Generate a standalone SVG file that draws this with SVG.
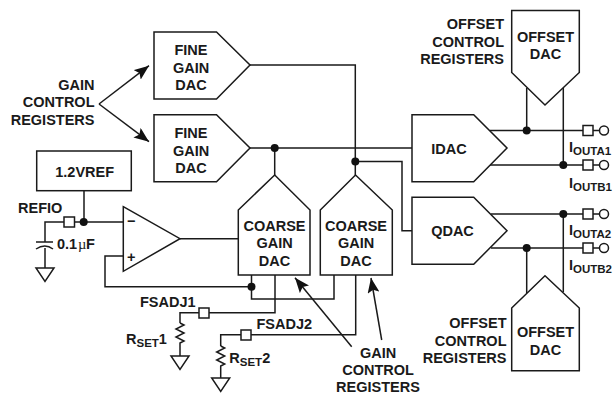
<svg xmlns="http://www.w3.org/2000/svg" width="613" height="394" viewBox="0 0 613 394">
<style>
.s{fill:none;stroke:#1a1a1a;stroke-width:1.5;stroke-linejoin:miter}
.b{fill:#fff;stroke:#1a1a1a;stroke-width:1.5}
.t{font-family:"Liberation Sans",Arial,sans-serif;font-weight:700;font-size:14.500px;fill:#1a1a1a}
.m{text-anchor:middle}
.e{text-anchor:end}
.u{font-size:11.500px}
.d{fill:#111;stroke:none}
</style>
<defs>
<marker id="a" markerUnits="userSpaceOnUse" markerWidth="16" markerHeight="12" refX="15" refY="6" orient="auto"><path d="M0 0L15 6L0 12L3 6Z" fill="#111"/></marker>
<g id="gnd"><path class="s" d="M-9 0H9L0 13.500Z"/></g>
</defs>
<g id="connectors">
<path class="s" d="M250 65H355.300V161.500H402V230.700H412M250 148H412M274.700 148V175M355.300 161.500V175"/>
<path class="s" d="M180 238.700H238.300M84 190.700V222M45 268V248M45 242V222H123.300M123.300 256H105V286.700H251.500M251.500 275V299H334V275"/>
<path class="s" d="M275 275V312.700H180V323M180 345V356M355.700 275V334.700H220.700V346M220.700 367V378"/>
<path class="s" d="M180 323l4 2-8 4 8 4-8 4 8 4-4 2v2M220.700 346l4 2-8 4 8 4-8 4 8 4-4 2v1"/>
<path class="s" d="M36 242H53M36 249Q45 243 53 249"/>
<path class="s" d="M490 130.500H583M490 165H583M491 214H583M491 248H583M592 130.500H600M592 165H600M592 214H600M592 248H600"/>
<path class="s" d="M526.700 88V130.500M563.300 87V165M526.700 248V293M563.300 214V292"/>
<path class="s" d="M99 104L149 65.700" marker-end="url(#a)"/>
<path class="s" d="M99 104L149 141.700" marker-end="url(#a)"/>
<path class="s" d="M351.700 346.700L295 277.700" marker-end="url(#a)"/>
<path class="s" d="M381.700 340L371 278" marker-end="url(#a)"/>
<circle class="d" cx="274.700" cy="148" r="4"/>
<circle class="d" cx="355.300" cy="161.500" r="4"/>
<circle class="d" cx="83.700" cy="222" r="4"/>
<circle class="d" cx="251.500" cy="286.700" r="4"/>
<circle class="d" cx="526.700" cy="130.500" r="4"/>
<circle class="d" cx="563.300" cy="165" r="4"/>
<circle class="d" cx="563.300" cy="214" r="4"/>
<circle class="d" cx="526.700" cy="248" r="4"/>
</g>
<g id="fine1"><path class="b" d="M154 32H216.500L250 65L216.500 99H154Z"/><text class="t m" x="191" y="55">FINE</text><text class="t m" x="191" y="73">GAIN</text><text class="t m" x="191" y="90">DAC</text></g>
<g id="fine2"><path class="b" d="M154 114.700H216.500L250 148L216.500 181.700H154Z"/><text class="t m" x="191" y="138">FINE</text><text class="t m" x="191" y="156">GAIN</text><text class="t m" x="191" y="173">DAC</text></g>
<g id="gain-regs-left"><text class="t e" x="94.500" y="90">GAIN</text><text class="t e" x="94.500" y="107">CONTROL</text><text class="t e" x="94.500" y="124.500">REGISTERS</text></g>
<g id="vref"><rect class="b" x="36.700" y="151" width="94.600" height="39.700"/><text class="t m" x="84.700" y="177">1.2VREF</text></g>
<g id="refio"><text class="t" x="18" y="213">REFIO</text><rect class="b" x="64" y="217" width="10.500" height="10"/></g>
<g id="cap"><text class="t" x="57" y="249">0.1</text><text x="78" y="249" style="font-family:'Liberation Serif',serif;font-size:14.500px;fill:#1a1a1a">µ</text><text class="t" x="86" y="249">F</text><use href="#gnd" x="45" y="268"/></g>
<g id="opamp"><path class="b" d="M123.300 206.700L180 238.700L123.300 271.300Z"/><text class="t" x="127" y="226">−</text><text class="t" x="127" y="261.500">+</text></g>
<g id="coarse1"><path class="b" d="M238.300 210L274.700 175L310 210V275H238.300Z"/><text class="t m" x="274.500" y="231">COARSE</text><text class="t m" x="274.500" y="248">GAIN</text><text class="t m" x="274.500" y="266">DAC</text></g>
<g id="coarse2"><path class="b" d="M320.300 210L355.500 175L392.300 210V275H320.300Z"/><text class="t m" x="356" y="231">COARSE</text><text class="t m" x="356" y="248">GAIN</text><text class="t m" x="356" y="266">DAC</text></g>
<g id="fsadj1"><text class="t" x="140" y="307">FSADJ1</text><rect class="b" x="199" y="308" width="10" height="10"/></g>
<g id="fsadj2"><text class="t" x="256.500" y="329">FSADJ2</text><rect class="b" x="241" y="330" width="10" height="10"/></g>
<g id="rset1"><text class="t" x="126" y="343.500">R<tspan class="u" dy="3">SET</tspan><tspan dy="-3">1</tspan></text><use href="#gnd" x="180" y="356"/></g>
<g id="rset2"><text class="t" x="229.300" y="363">R<tspan class="u" dy="3">SET</tspan><tspan dy="-3">2</tspan></text><use href="#gnd" x="220.700" y="378"/></g>
<g id="gain-regs-bottom"><text class="t m" x="378" y="357.500">GAIN</text><text class="t m" x="378" y="375">CONTROL</text><text class="t m" x="378" y="391.500">REGISTERS</text></g>
<g id="idac"><path class="b" d="M412 114.700H473.700L507 148L473.700 181.700H412Z"/><text class="t m" x="449" y="154">IDAC</text></g>
<g id="qdac"><path class="b" d="M412 197.300H473.700L507 230.700L473.700 264.300H412Z"/><text class="t m" x="452.500" y="236">QDAC</text></g>
<g id="offset-top"><path class="b" d="M511.700 10.500H579.300V72.500L545 105L511.700 72.500Z"/><text class="t m" x="545.500" y="42">OFFSET</text><text class="t m" x="545.500" y="59">DAC</text><text class="t e" x="504" y="29">OFFSET</text><text class="t e" x="504" y="47">CONTROL</text><text class="t e" x="504" y="64">REGISTERS</text></g>
<g id="offset-bottom"><path class="b" d="M511.700 308L545 275.700L579.300 308V370.700H511.700Z"/><text class="t m" x="545.500" y="337">OFFSET</text><text class="t m" x="545.500" y="355">DAC</text><text class="t e" x="506.500" y="328">OFFSET</text><text class="t e" x="506.500" y="346">CONTROL</text><text class="t e" x="506.500" y="363">REGISTERS</text></g>
<g id="out-a1"><rect class="b" x="583" y="125.500" width="10" height="10"/><circle class="b" cx="604" cy="130.500" r="4.500"/><text class="t" x="569" y="152">I<tspan class="u" dy="3">OUTA1</tspan></text></g>
<g id="out-b1"><rect class="b" x="583" y="160" width="10" height="10"/><circle class="b" cx="604" cy="165" r="4.500"/><text class="t" x="569" y="188">I<tspan class="u" dy="3">OUTB1</tspan></text></g>
<g id="out-a2"><rect class="b" x="583" y="209" width="10" height="10"/><circle class="b" cx="604" cy="214" r="4.500"/><text class="t" x="569" y="235">I<tspan class="u" dy="3">OUTA2</tspan></text></g>
<g id="out-b2"><rect class="b" x="583" y="243" width="10" height="10"/><circle class="b" cx="604" cy="248" r="4.500"/><text class="t" x="569" y="270">I<tspan class="u" dy="3">OUTB2</tspan></text></g>
</svg>
